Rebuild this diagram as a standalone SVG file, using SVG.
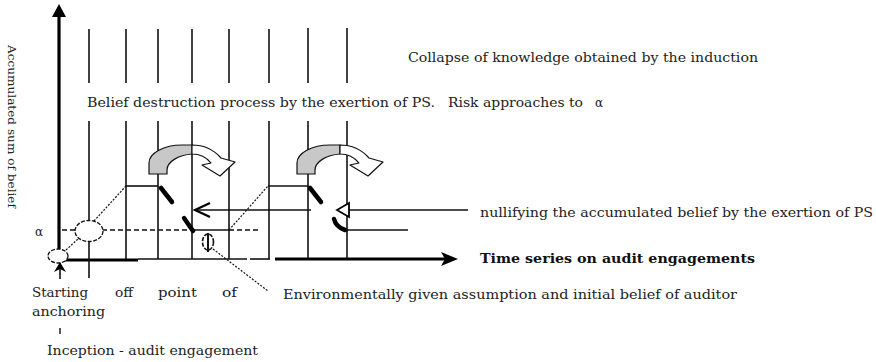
<svg xmlns="http://www.w3.org/2000/svg" width="876" height="362" viewBox="0 0 876 362">
<style>
.t{font-family:"DejaVu Serif","Liberation Serif",serif;font-size:12px;fill:#222}
.b{font-weight:bold;fill:#111}
.g{stroke:#111;stroke-width:1.6;fill:none}
.ax{stroke:#000;stroke-width:3.2;fill:none}
.dash{stroke:#111;stroke-width:1.4;fill:none;stroke-dasharray:5,3}
.dot{stroke:#111;stroke-width:1.2;fill:none;stroke-dasharray:2,1.5}
.mk{stroke:#000;stroke-width:4.5;stroke-linecap:round;fill:none}
.arrowG{fill:#c8c8c8;stroke:#111;stroke-width:1.2}
.arrowW{fill:#fff;stroke:#111;stroke-width:1.2;stroke-linejoin:round}
</style>
<rect width="876" height="362" fill="#fff"/>

<g id="axes">
  <line class="ax" x1="59" y1="14" x2="59" y2="263"/>
  <polygon points="59,4 52,17 66,17" fill="#000"/>
  <line class="ax" x1="58" y1="260" x2="138" y2="260"/>
  <line class="g" x1="138" y1="259" x2="247" y2="259"/>
  <line class="g" x1="250" y1="259" x2="270" y2="259"/>
  <line class="ax" x1="275" y1="259" x2="446" y2="259"/>
  <polygon points="458,259 441,252 445,259 441,266" fill="#000"/>
</g>

<g id="grid">
  <g class="g">
    <line x1="89" y1="29" x2="89" y2="83"/>
    <line x1="126" y1="29" x2="126" y2="83"/>
    <line x1="158" y1="29" x2="158" y2="83"/>
    <line x1="192" y1="29" x2="192" y2="83"/>
    <line x1="229" y1="29" x2="229" y2="83"/>
    <line x1="269" y1="29" x2="269" y2="83"/>
    <line x1="308" y1="28" x2="308" y2="83"/>
    <line x1="347" y1="28" x2="347" y2="83"/>
    <line x1="89" y1="121" x2="89" y2="278"/>
    <line x1="126" y1="121" x2="126" y2="259"/>
    <line x1="158" y1="121" x2="158" y2="259"/>
    <line x1="192" y1="121" x2="192" y2="259"/>
    <line x1="229" y1="121" x2="229" y2="259"/>
    <line x1="269" y1="121" x2="269" y2="259"/>
    <line x1="308" y1="121" x2="308" y2="259"/>
    <line x1="347" y1="121" x2="347" y2="259"/>
  </g>
</g>

<g id="connectors">
  <line class="g" x1="126" y1="186" x2="158" y2="186"/>
  <line class="g" x1="268" y1="186" x2="308" y2="186"/>
  <line class="dot" x1="94" y1="221" x2="126" y2="186"/>
  <line class="dot" x1="229" y1="230" x2="268" y2="186"/>
  <line class="dot" x1="66" y1="250" x2="78" y2="239"/>
  <line class="dash" x1="62" y1="230" x2="192" y2="230"/>
  <line class="g" x1="192" y1="230" x2="229" y2="230"/>
  <line class="dash" x1="229" y1="230" x2="259" y2="230"/>
  <line class="g" x1="194" y1="210" x2="311" y2="210"/>
  <polyline points="210,203 195,210 210,217" fill="none" stroke="#000" stroke-width="2.2"/>
  <line class="g" x1="347" y1="210" x2="468" y2="210"/>
  <polygon points="337,210 349,203 349,217" fill="#fff" stroke="#000" stroke-width="1.8"/>
  <line class="g" x1="347" y1="230" x2="408" y2="230"/>
  <line class="dot" x1="213" y1="249" x2="268" y2="291"/>
  <line class="g" x1="60" y1="262" x2="60" y2="279"/>
  <polygon points="60,262 54,272 60,269 66,272" fill="#000"/>
  <line x1="60" y1="328" x2="60" y2="334" stroke="#222" stroke-width="1.5"/>
</g>

<g id="marks">
  <line class="mk" x1="161" y1="188" x2="172" y2="202"/>
  <line class="mk" x1="184" y1="218" x2="193" y2="231"/>
  <line class="mk" x1="310" y1="188" x2="321" y2="202"/>
  <path class="mk" d="M334,219 Q336,227 345,230"/>
</g>

<g id="ellipse-initial">
  <ellipse cx="89" cy="231" rx="14" ry="10.5" fill="#fff" stroke="#111" stroke-width="1.3" stroke-dasharray="4,1.5"/>
</g>
<g id="ellipse-start">
  <ellipse cx="58" cy="256" rx="10" ry="7" fill="#fff" stroke="#111" stroke-width="1.3" stroke-dasharray="4,1.5"/>
</g>
<g id="phi-symbol">
  <ellipse cx="208" cy="242" rx="5.5" ry="8" fill="none" stroke="#111" stroke-width="1.6" stroke-dasharray="4,1.5"/>
  <line x1="208" y1="233" x2="208" y2="252" stroke="#111" stroke-width="2"/>
</g>

<g id="curved-arrow-1" transform="translate(-148,0)">
  <path class="arrowG" d="M297,174 L297,163 C297,153 312,145 330,145 L340,145 L340,154 C326,155 315,162 315,170 L315,174 Z"/>
  <path class="arrowW" d="M340,145 C352,145 362,150 369,158 L383,162 L368,176 L350,165 L359,163 C355,158 348,154 340,154 Z"/>
</g>
<g id="curved-arrow-2">
  <path class="arrowG" d="M297,174 L297,163 C297,153 312,145 330,145 L340,145 L340,154 C326,155 315,162 315,170 L315,174 Z"/>
  <path class="arrowW" d="M340,145 C352,145 362,150 369,158 L383,162 L368,176 L350,165 L359,163 C355,158 348,154 340,154 Z"/>
</g>

<g id="labels">
  <text class="t" x="408" y="62" textLength="350" lengthAdjust="spacingAndGlyphs">Collapse of knowledge obtained by the induction</text>
  <text class="t" x="87" y="107" textLength="348" lengthAdjust="spacingAndGlyphs">Belief destruction process by the exertion of PS.</text>
  <text class="t" x="448" y="107" textLength="135" lengthAdjust="spacingAndGlyphs">Risk approaches to</text>
  <text class="t" x="595" y="107">α</text>
  <text class="t" x="35" y="236">α</text>
  <text class="t" x="480" y="217" textLength="393" lengthAdjust="spacingAndGlyphs">nullifying the accumulated belief by the exertion of PS</text>
  <text class="t b" x="480" y="263" textLength="275" lengthAdjust="spacingAndGlyphs">Time series on audit engagements</text>
  <text class="t" x="283" y="299" textLength="454" lengthAdjust="spacingAndGlyphs">Environmentally given assumption and initial belief of auditor</text>
  <text class="t" x="32" y="297" textLength="56" lengthAdjust="spacingAndGlyphs">Starting</text>
  <text class="t" x="115" y="297" textLength="18" lengthAdjust="spacingAndGlyphs">off</text>
  <text class="t" x="158" y="297" textLength="39" lengthAdjust="spacingAndGlyphs">point</text>
  <text class="t" x="222" y="297" textLength="15" lengthAdjust="spacingAndGlyphs">of</text>
  <text class="t" x="32" y="316" textLength="73" lengthAdjust="spacingAndGlyphs">anchoring</text>
  <text class="t" x="47" y="355" textLength="211" lengthAdjust="spacingAndGlyphs">Inception - audit engagement</text>
  <text class="t" transform="translate(8,45) rotate(90)" style="font-size:11px" textLength="163" lengthAdjust="spacingAndGlyphs">Accumulated sum of belief</text>
</g>
</svg>
